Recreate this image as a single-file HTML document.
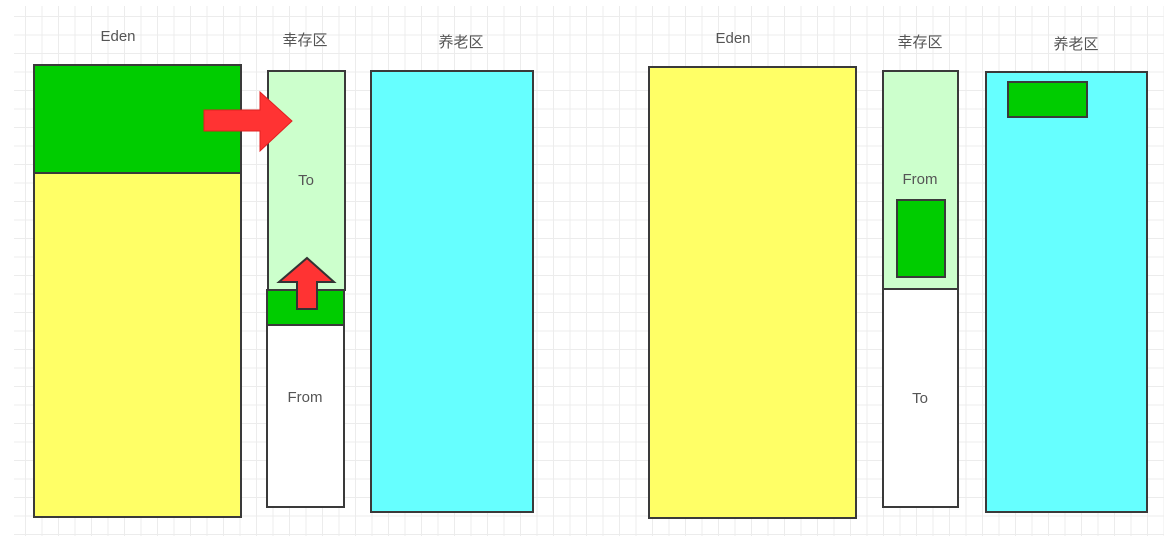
<!DOCTYPE html>
<html><head><meta charset="utf-8"><style>
html,body{margin:0;padding:0;background:#fff;}
body{width:1172px;height:539px;position:relative;overflow:hidden;font-family:"Liberation Sans","Noto Sans CJK SC",sans-serif;}
.grid{position:absolute;left:14px;top:6px;width:1150px;height:530px;
background-image:linear-gradient(to right,#ececec 1px,transparent 1px),linear-gradient(to bottom,#ececec 1px,transparent 1px);
background-size:16.5px 18.5px;background-position:11px 10px;}
.b{position:absolute;box-sizing:border-box;border:2px solid #3a3a3a;}
.t{position:absolute;color:#555;font-size:15px;transform:translateX(-50%);white-space:nowrap;}
</style></head><body>
<div class="grid"></div>
<div class="t" style="left:118px;top:28px">Eden</div>
<div class="t" style="left:305px;top:29px">幸存区</div>
<div class="t" style="left:461px;top:31px">养老区</div>
<div class="t" style="left:733px;top:30px">Eden</div>
<div class="t" style="left:920px;top:31px">幸存区</div>
<div class="t" style="left:1076px;top:33px">养老区</div>

<div class="b" style="left:33px;top:172px;width:209px;height:346px;background:#ffff66"></div>
<div class="b" style="left:33px;top:64px;width:209px;height:110px;background:#00cc00"></div>
<div class="b" style="left:267px;top:70px;width:79px;height:221px;background:#ccffcc"></div>
<div class="b" style="left:266px;top:324px;width:79px;height:184px;background:#fff"></div>
<div class="b" style="left:266px;top:289px;width:79px;height:37px;background:#00cc00"></div>
<div class="b" style="left:370px;top:70px;width:164px;height:443px;background:#66ffff"></div>
<div class="t" style="left:306px;top:172px">To</div>
<div class="t" style="left:305px;top:389px">From</div>

<div class="b" style="left:648px;top:66px;width:209px;height:453px;background:#ffff66"></div>
<div class="b" style="left:882px;top:70px;width:77px;height:220px;background:#ccffcc"></div>
<div class="b" style="left:882px;top:288px;width:77px;height:220px;background:#fff"></div>
<div class="b" style="left:896px;top:199px;width:50px;height:79px;background:#00cc00"></div>
<div class="b" style="left:985px;top:71px;width:163px;height:442px;background:#66ffff"></div>
<div class="b" style="left:1007px;top:81px;width:81px;height:37px;background:#00cc00"></div>
<div class="t" style="left:920px;top:171px">From</div>
<div class="t" style="left:920px;top:390px">To</div>

<svg style="position:absolute;left:0;top:0" width="1172" height="539">
<polygon points="204,110 260,110 260,92 292,121 260,151 260,131 204,131" fill="#ff3333" stroke="#e02020" stroke-width="1"/>
<polygon points="307,258 334,282 317,282 317,309 297,309 297,282 279,282" fill="#ff3333" stroke="#333" stroke-width="2"/>
</svg>
</body></html>
